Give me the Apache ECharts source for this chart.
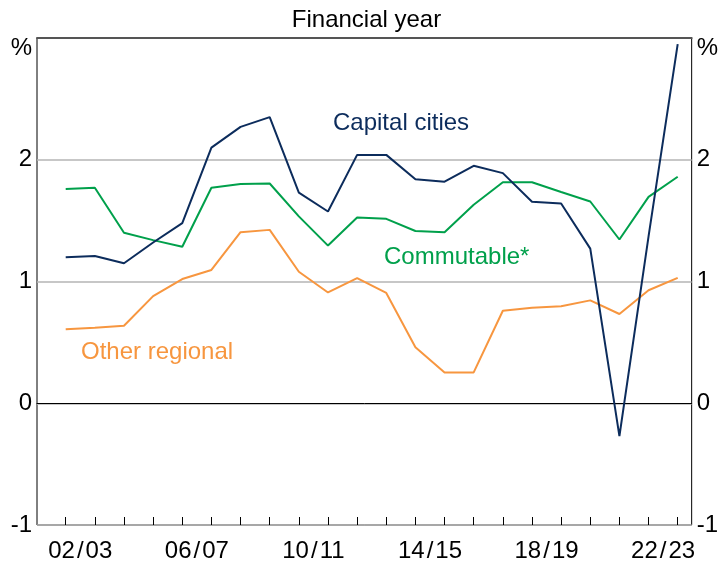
<!DOCTYPE html>
<html>
<head>
<meta charset="utf-8">
<script src="https://cdn.jsdelivr.net/npm/echarts@6/dist/echarts.min.js"></script>
<style>
html,body{margin:0;padding:0;background:#fff;}
#c{width:721px;height:563px;}
</style>
</head>
<body>
<div id="c"></div>
<script>
// Data points (end of each financial year)
var years = ['01/02','02/03','03/04','04/05','05/06','06/07','07/08','08/09','09/10','10/11','11/12',
             '12/13','13/14','14/15','15/16','16/17','17/18','18/19','19/20','20/21','21/22','22/23'];
// Financial-year bands used for axis labels
var fyLabels = ['02/03','03/04','04/05','05/06','06/07','07/08','08/09','09/10','10/11','11/12',
                '12/13','13/14','14/15','15/16','16/17','17/18','18/19','19/20','20/21','21/22','22/23'];
var capitalCities = [1.20,1.21,1.15,1.32,1.48,2.10,2.27,2.35,1.73,1.575,2.04,
                     2.04,1.84,1.82,1.95,1.89,1.655,1.64,1.27,-0.27,1.37,2.95];
var commutable = [1.76,1.77,1.40,1.34,1.285,1.77,1.80,1.805,1.535,1.295,1.525,
                  1.515,1.415,1.405,1.63,1.815,1.815,1.735,1.657,1.345,1.695,1.86];
var otherRegional = [0.607,0.62,0.637,0.88,1.02,1.095,1.405,1.424,1.08,0.91,1.027,
                     0.906,0.46,0.253,0.253,0.76,0.785,0.796,0.845,0.733,0.928,1.03];
var yTicks = [-1,0,1,2,3];

var FONT = '"Liberation Sans", Arial, sans-serif';
var FS = 24;
var navy = '#0c2c5c', green = '#00a04b', orange = '#f7963f';

var chart = echarts.init(document.getElementById('c'), null, {renderer:'canvas'});
var yLabelFmt = function (v) { return v === 3 ? '{p|%}' : String(v); };
var yRich = { p: { fontFamily: FONT, fontSize: FS, color: '#000', padding: [20,0,0,0] } };

chart.setOption({
  animation: false,
  backgroundColor: '#fff',
  textStyle: { fontFamily: FONT },
  grid: [
    { left: 37, right: 24, top: 38, bottom: 38, show: true, borderColor: '#000', borderWidth: 1, backgroundColor: 'transparent' },
    { left: 65.7, right: 43.3, top: 38, bottom: 38 }
  ],
  xAxis: [
    { gridIndex: 0, type: 'value', min: 0, max: 1, z: 3,
      axisLine: { show: true, onZero: true, lineStyle: { color: '#000', width: 1 } },
      axisTick: { show: false }, axisLabel: { show: false }, splitLine: { show: false } },
    { gridIndex: 1, type: 'category', data: years, boundaryGap: false, position: 'bottom',
      axisLine: { show: false, onZero: false },
      axisTick: { show: true, inside: true, length: 8, interval: 0, lineStyle: { color: '#000', width: 1 } },
      axisLabel: { show: false }, splitLine: { show: false } },
    { gridIndex: 1, type: 'category', data: fyLabels, boundaryGap: true, position: 'bottom',
      axisLine: { show: false, onZero: false }, axisTick: { show: false },
      axisLabel: { show: true, interval: 3, margin: 14, fontFamily: FONT, fontSize: FS, color: '#000',
        formatter: function (v) { return v.replace('/', '\u200a/\u200a'); } },
      splitLine: { show: false } },
    { gridIndex: 0, type: 'value', min: 0, max: 1, position: 'top', z: 3,
      axisLine: { show: true, onZero: false, lineStyle: { color: '#555', width: 2 } },
      axisTick: { show: false }, axisLabel: { show: false }, splitLine: { show: false } }
  ],
  yAxis: [
    { gridIndex: 0, type: 'value', min: yTicks[0], max: yTicks[yTicks.length-1], interval: 1, position: 'left',
      axisLine: { show: false }, axisTick: { show: false },
      axisLabel: { margin: 5, fontFamily: FONT, fontSize: FS, color: '#000', formatter: yLabelFmt, rich: yRich },
      splitLine: { show: true, lineStyle: { color: '#b4b4b4', width: 1.5 } } },
    { gridIndex: 0, type: 'value', min: yTicks[0], max: yTicks[yTicks.length-1], interval: 1, position: 'right',
      axisLine: { show: false }, axisTick: { show: false },
      axisLabel: { margin: 5, fontFamily: FONT, fontSize: FS, color: '#000', formatter: yLabelFmt, rich: yRich },
      splitLine: { show: false } },
    { gridIndex: 1, type: 'value', min: yTicks[0], max: yTicks[yTicks.length-1], interval: 1, show: false }
  ],
  series: [
    { name: 'Commutable*', type: 'line', xAxisIndex: 1, yAxisIndex: 2, data: commutable,
      symbol: 'none', lineStyle: { color: green, width: 2 }, z: 4 },
    { name: 'Other regional', type: 'line', xAxisIndex: 1, yAxisIndex: 2, data: otherRegional,
      symbol: 'none', lineStyle: { color: orange, width: 2 }, z: 4 },
    { name: 'Capital cities', type: 'line', xAxisIndex: 1, yAxisIndex: 2, data: capitalCities,
      symbol: 'none', lineStyle: { color: navy, width: 2 }, z: 5 }
  ],
  graphic: [
    { type: 'text', x: 366.5, y: 20, style: { text: 'Financial year', fontFamily: FONT, fontSize: FS, fill: '#000', verticalAlign: 'middle', align: 'center' } },
    { type: 'text', x: 333, y: 123, style: { text: 'Capital cities', fontFamily: FONT, fontSize: FS, fill: navy, verticalAlign: 'middle', align: 'left' } },
    { type: 'text', x: 384, y: 257, style: { text: 'Commutable*', fontFamily: FONT, fontSize: FS, fill: green, verticalAlign: 'middle', align: 'left' } },
    { type: 'text', x: 81, y: 352, style: { text: 'Other regional', fontFamily: FONT, fontSize: FS, fill: orange, verticalAlign: 'middle', align: 'left' } }
  ]
});
</script>
</body>
</html>
